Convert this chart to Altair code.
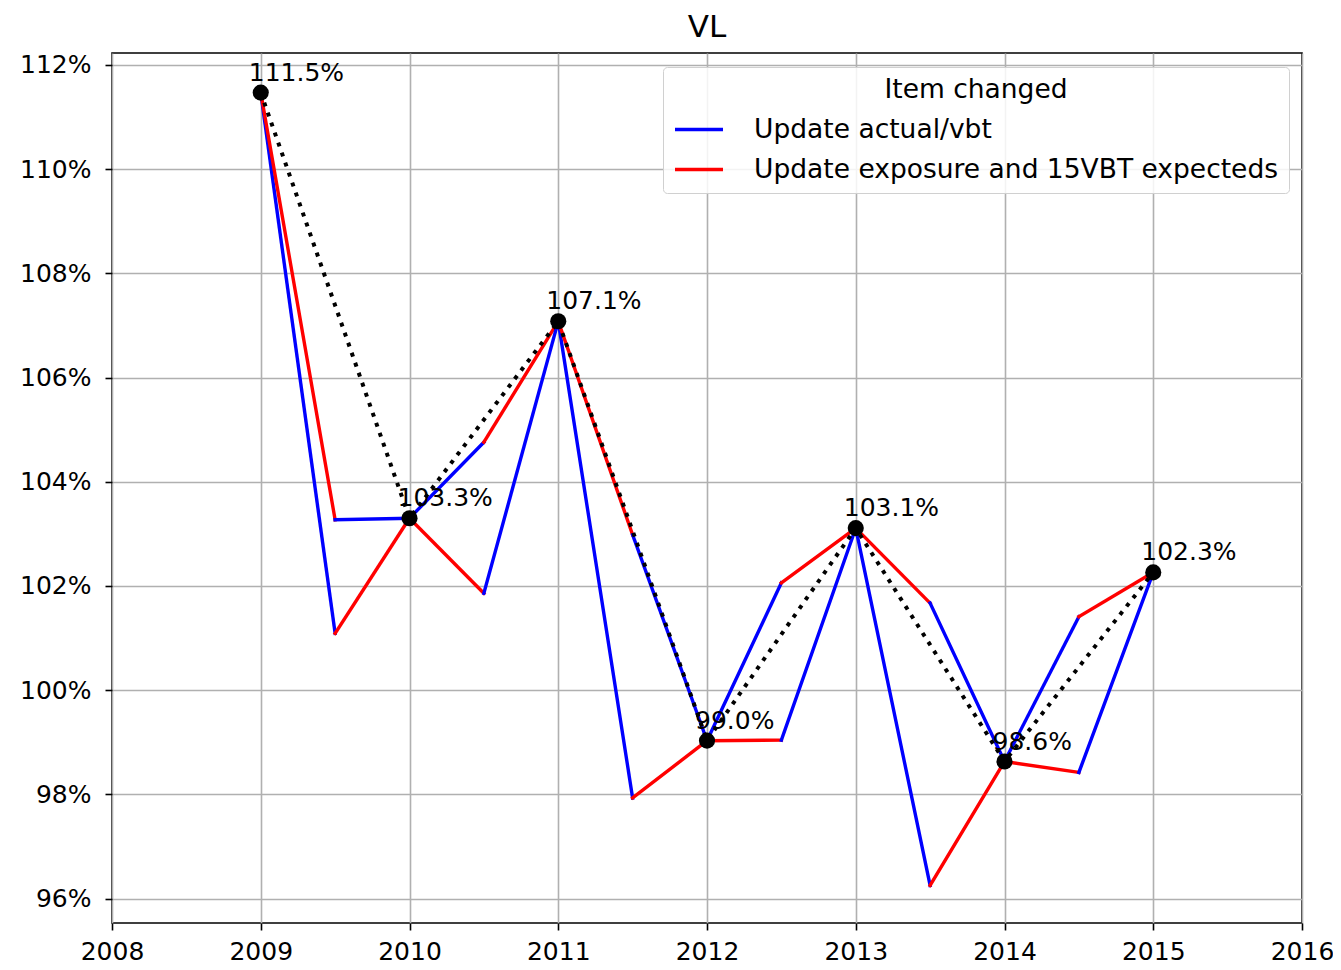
import altair as alt
import pandas as pd

# ---- data ----
years = [2009, 2010, 2011, 2012, 2013, 2014, 2015]
totals = [111.47, 103.30, 107.08, 99.03, 103.11, 98.63, 102.26]
# mid-year level when "Update actual/vbt" is applied first
mid_actual_first = [101.09, 104.76, 97.93, 102.06, 96.25, 101.41]
# mid-year level when "Update exposure and 15VBT expecteds" is applied first
mid_exposure_first = [103.27, 101.86, 102.98, 99.04, 101.67, 98.42]
items = ["Update actual/vbt", "Update exposure and 15VBT expecteds"]
colors = ["#0000ff", "#ff0000"]
x_ticks = [2008, 2009, 2010, 2011, 2012, 2013, 2014, 2015, 2016]
y_ticks = [96, 98, 100, 102, 104, 106, 108, 110, 112]

FONT = "DejaVu Sans"

rows = []
for i in range(len(years) - 1):
    a, b = years[i], years[i + 1]
    xm = a + 0.5
    for mids, first, second in ((mid_actual_first, items[0], items[1]),
                                (mid_exposure_first, items[1], items[0])):
        rows.append(dict(x=a, y=totals[i], x2=xm, y2=mids[i], item=first))
        rows.append(dict(x=xm, y=mids[i], x2=b, y2=totals[i + 1], item=second))
seg_df = pd.DataFrame(rows)
tot_df = pd.DataFrame({"x": years, "y": totals})

xs = alt.Scale(domain=[2008, 2016], nice=False, zero=False)
ys = alt.Scale(domain=[95.53, 112.23], nice=False, zero=False)

x_axis = alt.Axis(values=x_ticks, format="d", title=None, labelFlush=False,
                  labelOverlap=False, labelPadding=9)
y_axis = alt.Axis(values=y_ticks, labelExpr="datum.value + '%'", title=None,
                  labelOverlap=False, labelPadding=14)

segs = alt.Chart(seg_df).mark_rule(strokeWidth=3.4, strokeCap="square").encode(
    x=alt.X("x:Q", scale=xs, axis=x_axis),
    y=alt.Y("y:Q", scale=ys, axis=y_axis),
    x2="x2:Q",
    y2="y2:Q",
    color=alt.Color("item:N", scale=alt.Scale(domain=items, range=colors),
                    legend=alt.Legend(title="Item changed", orient="none",
                                      legendX=551, legendY=14)),
)

dotted = alt.Chart(tot_df).mark_line(color="black", strokeWidth=4,
                                     strokeDash=[4, 6.6], strokeCap="butt").encode(
    x=alt.X("x:Q", scale=xs), y=alt.Y("y:Q", scale=ys))

pts = alt.Chart(tot_df).mark_point(filled=True, color="black", size=260, opacity=1).encode(
    x=alt.X("x:Q", scale=xs), y=alt.Y("y:Q", scale=ys))

labels = alt.Chart(tot_df).transform_calculate(
    lab="format(datum.y, '.1f') + '%'"
).mark_text(align="left", baseline="alphabetic", dx=-12, dy=-12,
            font=FONT, fontSize=25, color="black").encode(
    x=alt.X("x:Q", scale=xs), y=alt.Y("y:Q", scale=ys), text="lab:N")

chart = alt.layer(segs, dotted, pts, labels).properties(
    width=1190, height=870,
    title=alt.TitleParams("VL", fontSize=31, font=FONT, fontWeight="normal",
                          color="black", offset=9, anchor="middle"),
    autosize=alt.AutoSizeParams(type="none"),
    padding={"left": 104, "top": 45, "right": 31, "bottom": 44},
).configure_view(
    stroke="black", strokeWidth=1.6
).configure_axis(
    grid=True, gridColor="#b0b0b0", gridWidth=1.6, domain=False,
    tickColor="black", tickSize=7, tickWidth=1.6,
    labelFont=FONT, labelFontSize=25, labelColor="black",
).configure_legend(
    symbolType="stroke", symbolSize=2304, symbolStrokeWidth=3.4,
    labelFont=FONT, labelFontSize=26.5, labelColor="black", labelOffset=29,
    labelLimit=0, titleLimit=0,
    titleFont=FONT, titleFontSize=26.5, titleFontWeight="normal", titleColor="black",
    titleAnchor="middle", titleAlign="center", titlePadding=0,
    padding=10, rowPadding=0, strokeColor="#d0d0d0",
    fillColor="rgba(255,255,255,0.85)", cornerRadius=4,
)

chart.save("out.html", embed_options={"renderer": "svg", "actions": False})
